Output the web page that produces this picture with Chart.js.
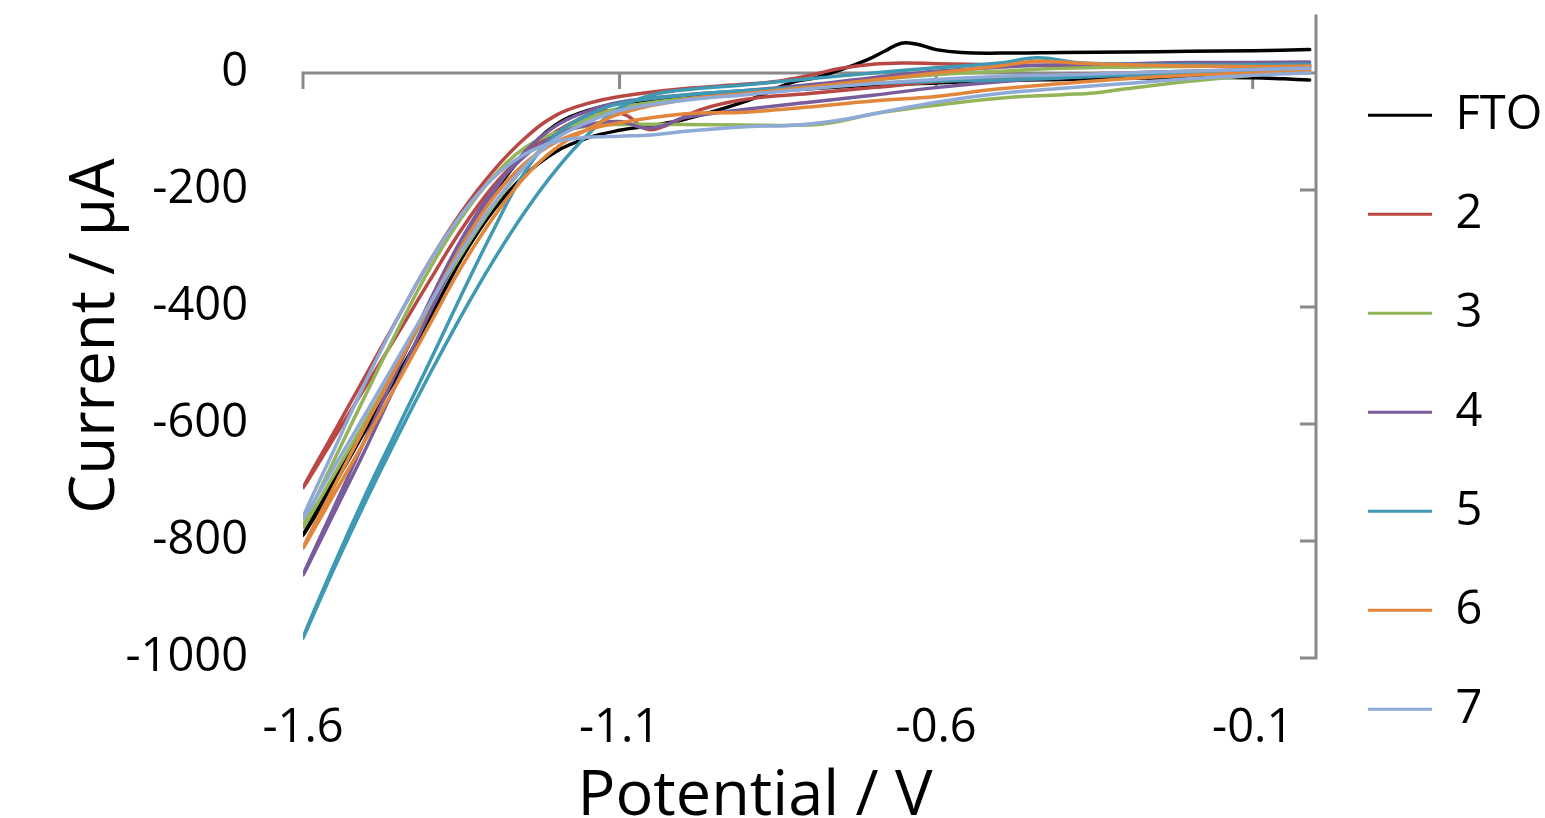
<!DOCTYPE html>
<html><head><meta charset="utf-8">
<script src="https://cdn.jsdelivr.net/npm/chart.js@4.4.1/dist/chart.umd.min.js"></script>
<style>html,body{margin:0;padding:0;background:#fff;overflow:hidden;}</style>
</head><body>
<canvas id="c" width="1545" height="818"></canvas>
<script>
// ---------- DATA ----------
const seriesNames  = ['FTO', '2', '3', '4', '5', '6', '7'];
const seriesColors = ['#000000', '#B94845', '#93B558', '#785C9B', '#4099B3', '#E1863B', '#8FAAD6'];
const xTickValues = [-1.6, -1.1, -0.6, -0.1];
const xTickLabels = ['-1.6', '-1.1', '-0.6', '-0.1'];
const yTickValues = [-1000, -800, -600, -400, -200, 0];
const yTickLabels = ['-1000', '-800', '-600', '-400', '-200', '0'];
const xAxisTitle = 'Potential / V';
const yAxisTitle = 'Current / µA';

// each loop: scan from ~0 V down to -1.6 V and back
const V_FTO = [-0.01,-0.05,-0.1,-0.2,-0.3,-0.4,-0.5,-0.6,-0.7,-0.8,-0.9,-1.0,-1.1,-1.15,-1.2,-1.25,-1.3,-1.35,-1.4,-1.45,-1.5,-1.55,-1.6,
               -1.55,-1.5,-1.45,-1.4,-1.35,-1.3,-1.25,-1.2,-1.15,-1.1,-1.05,-1.0,-0.9,-0.83,-0.79,-0.75,-0.71,-0.68,-0.655,-0.63,-0.6,-0.56,-0.5,-0.4,-0.3,-0.2,-0.1,-0.01];
const I_FTO = [-12,-10,-8,-8,-9,-11,-13,-17,-21,-27,-34,-42,-52,-64,-88,-138,-208,-298,-398,-498,-596,-694,-790,
               -702,-608,-515,-420,-318,-236,-175,-134,-111,-98,-90,-80,-48,-17,-8,6,22,38,51,49,40,35,34,35,36,37,38,40];

const V_2 = [-0.01,-0.1,-0.2,-0.3,-0.4,-0.5,-0.55,-0.6,-0.65,-0.7,-0.75,-0.8,-0.85,-0.9,-1.0,-1.1,-1.15,-1.2,-1.25,-1.3,-1.35,-1.4,-1.45,-1.5,-1.55,-1.6,
             -1.55,-1.5,-1.45,-1.4,-1.35,-1.3,-1.25,-1.2,-1.17,-1.13,-1.09,-1.057,-1.025,-0.973,-0.9,-0.8,-0.7,-0.6,-0.5,-0.4,-0.3,-0.2,-0.1,-0.01];
const I_2 = [14,13,13,13,13,14,15,16,17,15,8,-4,-14,-19,-27,-40,-52,-72,-112,-168,-238,-322,-418,-515,-612,-709,
             -622,-534,-445,-355,-268,-194,-138,-100,-82,-65,-72,-96,-89,-63,-45,-35,-25,-15,-8,-3,0,3,6,10];

const V_3 = [-0.01,-0.1,-0.2,-0.3,-0.4,-0.5,-0.6,-0.7,-0.8,-0.9,-1.0,-1.1,-1.15,-1.2,-1.25,-1.3,-1.35,-1.4,-1.45,-1.5,-1.55,-1.6,
             -1.55,-1.5,-1.45,-1.4,-1.35,-1.3,-1.25,-1.2,-1.15,-1.1,-1.0,-0.9,-0.8,-0.75,-0.7,-0.6,-0.5,-0.4,-0.35,-0.3,-0.2,-0.1,-0.01];
const I_3 = [12,12,11,10,8,3,-3,-12,-24,-34,-44,-60,-78,-108,-160,-228,-310,-402,-498,-592,-685,-776,
             -660,-548,-438,-335,-248,-178,-128,-102,-91,-88,-88,-89,-89,-82,-70,-55,-43,-37,-34,-27,-14,-4,5];

const V_4 = [-0.01,-0.1,-0.2,-0.3,-0.4,-0.5,-0.6,-0.7,-0.8,-0.9,-1.0,-1.1,-1.15,-1.2,-1.25,-1.3,-1.35,-1.4,-1.45,-1.5,-1.55,-1.6,
             -1.55,-1.5,-1.45,-1.4,-1.35,-1.3,-1.25,-1.2,-1.15,-1.1,-1.06,-1.03,-1.0,-0.9,-0.8,-0.7,-0.6,-0.5,-0.4,-0.3,-0.2,-0.1,-0.01];
const I_4 = [19,18,18,16,14,10,3,-8,-20,-30,-38,-50,-65,-90,-135,-205,-300,-410,-525,-640,-750,-858,
             -740,-622,-505,-390,-285,-200,-142,-106,-89,-83,-94,-90,-77,-62,-50,-38,-25,-15,-8,-2,2,6,10];

const V_5 = [-0.01,-0.1,-0.2,-0.3,-0.38,-0.44,-0.5,-0.6,-0.7,-0.8,-0.9,-1.0,-1.05,-1.1,-1.15,-1.2,-1.25,-1.3,-1.35,-1.4,-1.45,-1.5,-1.55,-1.6,
             -1.55,-1.5,-1.45,-1.4,-1.35,-1.3,-1.25,-1.2,-1.15,-1.1,-1.0,-0.9,-0.8,-0.7,-0.6,-0.5,-0.4,-0.3,-0.2,-0.1,-0.01];
const I_5 = [15,14,14,15,18,26,17,9,0,-10,-20,-29,-38,-60,-105,-165,-238,-322,-415,-515,-620,-730,-845,-966,
             -838,-718,-606,-494,-380,-270,-170,-105,-72,-52,-38,-30,-24,-18,-14,-12,-8,-4,0,3,5];

const V_6 = [-0.01,-0.1,-0.2,-0.3,-0.38,-0.44,-0.5,-0.6,-0.7,-0.8,-0.9,-1.0,-1.1,-1.15,-1.2,-1.25,-1.3,-1.35,-1.4,-1.45,-1.5,-1.55,-1.6,
             -1.55,-1.5,-1.45,-1.4,-1.35,-1.3,-1.25,-1.2,-1.15,-1.1,-1.0,-0.9,-0.8,-0.7,-0.6,-0.5,-0.4,-0.3,-0.2,-0.1,-0.01];
const I_6 = [12,11,12,14,17,20,12,0,-12,-24,-35,-46,-70,-96,-128,-178,-248,-332,-430,-528,-624,-718,-812,
             -705,-600,-498,-396,-298,-214,-155,-118,-97,-85,-70,-67,-58,-48,-40,-27,-18,-10,-4,0,3];

const V_7 = [-0.01,-0.1,-0.2,-0.3,-0.4,-0.5,-0.6,-0.7,-0.8,-0.9,-1.0,-1.1,-1.15,-1.2,-1.25,-1.3,-1.35,-1.4,-1.45,-1.5,-1.55,-1.6,
             -1.55,-1.5,-1.45,-1.4,-1.35,-1.3,-1.25,-1.2,-1.15,-1.1,-1.05,-1.0,-0.9,-0.82,-0.75,-0.7,-0.6,-0.5,-0.4,-0.3,-0.2,-0.1,-0.01];
const I_7 = [8,6,3,0,-3,-6,-11,-18,-27,-37,-47,-64,-84,-112,-160,-225,-305,-395,-487,-580,-672,-761,
             -642,-525,-418,-322,-242,-180,-139,-117,-110,-108,-106,-100,-92,-89,-80,-70,-50,-35,-26,-18,-10,-4,0];

const seriesV = [V_FTO, V_2, V_3, V_4, V_5, V_6, V_7];
const seriesI = [I_FTO, I_2, I_3, I_4, I_5, I_6, I_7];

// ---------- CHART ----------
const FONT = 'Open Sans';
const AXIS_GRAY = '#898989';

const datasets = seriesNames.map((name, i) => {
  const n = Math.min(seriesV[i].length, seriesI[i].length);
  const pts = [];
  for (let k = 0; k < n; k++) pts.push({x: seriesV[i][k], y: seriesI[i][k]});
  return {
    label: name, data: pts,
    borderColor: seriesColors[i], backgroundColor: seriesColors[i],
    borderWidth: 3.5, pointRadius: 0, pointHoverRadius: 0,
    showLine: true, tension: 0.4, fill: false,
    borderCapStyle: 'round', borderJoinStyle: 'round',
    order: seriesNames.length - i
  };
});

const excelAxes = {
  id: 'excelAxes',
  beforeDatasetsDraw(chart) {
    const {ctx, scales: {x, y}} = chart;
    ctx.save();
    ctx.strokeStyle = AXIS_GRAY; ctx.lineWidth = 3; ctx.lineCap = 'butt';
    const y0 = y.getPixelForValue(0);
    const xl = x.getPixelForValue(x.min), xr = x.getPixelForValue(0);
    ctx.beginPath();
    ctx.moveTo(xl - 1.5, y0); ctx.lineTo(xr, y0);
    xTickValues.forEach(v => { const px = x.getPixelForValue(v); ctx.moveTo(px, y0); ctx.lineTo(px, y0 + 16); });
    const yt = y.getPixelForValue(y.max), yb = y.getPixelForValue(y.min);
    ctx.moveTo(xr, yt); ctx.lineTo(xr, yb + 1.5);
    yTickValues.forEach(v => { const py = y.getPixelForValue(v); ctx.moveTo(xr, py); ctx.lineTo(xr - 16, py); });
    ctx.stroke();
    ctx.restore();
  },
  afterDraw(chart) {
    const {ctx, chartArea} = chart;
    ctx.save();
    ctx.fillStyle = '#000';
    ctx.font = '63px "' + FONT + '"';
    ctx.textAlign = 'center'; ctx.textBaseline = 'alphabetic';
    const cx = chartArea.left + (chartArea.right - chartArea.left) * 0.4462;
    ctx.fillText(xAxisTitle, cx, chart.height - 3);
    ctx.restore();
  }
};

new Chart(document.getElementById('c'), {
  type: 'scatter',
  data: {datasets},
  plugins: [excelAxes],
  options: {
    responsive: false, animation: false, devicePixelRatio: 1,
    layout: {padding: {top: 14.5, bottom: 8, left: 0, right: 0}},
    scales: {
      x: {
        type: 'linear', position: 'bottom', min: -1.6, max: 0,
        grid: {display: false, drawTicks: false}, border: {display: false},
        ticks: {autoSkip: false, maxRotation: 0, padding: 42, color: '#000',
                font: {family: FONT, size: 47},
                callback: (v, i) => xTickLabels[i]},
        afterBuildTicks: s => { s.ticks = xTickValues.map(v => ({value: v})); },
        afterFit: s => { s.height = 152; s.paddingLeft = 0; s.paddingRight = 0; }
      },
      y: {
        type: 'linear', position: 'left', min: -1000, max: 100,
        grid: {display: false, drawTicks: false}, border: {display: false},
        ticks: {autoSkip: false, padding: 55, color: '#000',
                font: {family: FONT, size: 47},
                callback: (v, i) => yTickLabels[i]},
        afterBuildTicks: s => { s.ticks = yTickValues.map(v => ({value: v})); },
        afterFit: s => { s.width = 303; s.paddingTop = 0; s.paddingBottom = 0; },
        title: {display: true, text: yAxisTitle, color: '#000',
                font: {family: FONT, size: 62}, padding: {top: 59, bottom: 0}}
      }
    },
    plugins: {
      tooltip: {enabled: false},
      legend: {
        position: 'right', maxWidth: 229,
        labels: {
          usePointStyle: true, pointStyle: 'line', pointStyleWidth: 64,
          padding: 52, color: '#000', font: {family: FONT, size: 47},
          sort: (a, b) => a.datasetIndex - b.datasetIndex,
          generateLabels: chart => Chart.defaults.plugins.legend.labels.generateLabels(chart)
                                     .map(l => Object.assign(l, {lineWidth: 3}))
        }
      }
    }
  }
});
</script>
</body></html>
